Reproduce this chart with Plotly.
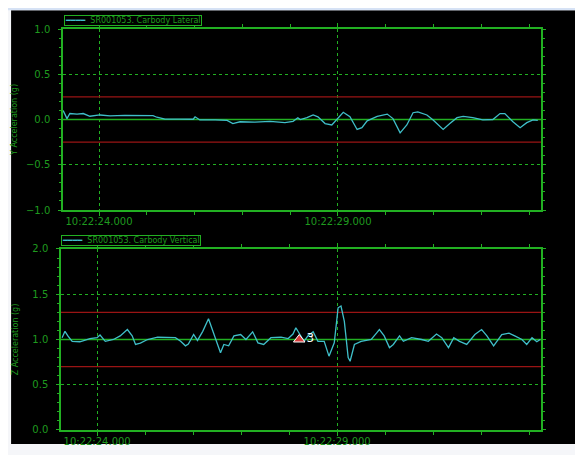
import plotly.graph_objects as go

# ---------------- data (seconds after 10:22:00) ----------------
lat_time = [23.25, 23.33, 23.39, 23.54, 23.67, 23.81, 24.02, 24.23, 24.54, 24.86,
            25.13, 25.21, 25.38, 25.69, 25.97, 26.01, 26.11, 26.43, 26.68, 26.80,
            26.95, 27.26, 27.58, 27.89, 28.06, 28.16, 28.21, 28.35, 28.48, 28.58,
            28.73, 28.87, 28.98, 29.11, 29.25, 29.40, 29.50, 29.61, 29.82, 30.03,
            30.15, 30.30, 30.44, 30.57, 30.67, 30.86, 30.99, 31.20, 31.34, 31.49,
            31.62, 31.82, 32.03, 32.24, 32.39, 32.49, 32.66, 32.81, 32.95, 33.08, 33.18]
lat_accel = [0.10, 0.01, 0.066, 0.06, 0.066, 0.036, 0.05, 0.04, 0.045, 0.04,
             0.042, 0.025, 0.005, 0.005, 0.003, 0.03, -0.005, -0.005, -0.01, -0.045,
             -0.025, -0.03, -0.02, -0.035, -0.02, 0.02, 0.0, 0.02, 0.05, 0.03,
             -0.045, -0.06, 0.01, 0.08, 0.03, -0.11, -0.09, -0.015, 0.035, 0.06,
             0.01, -0.147, -0.06, 0.075, 0.085, 0.05, -0.005, -0.11, -0.045, 0.02,
             0.035, 0.02, -0.005, 0.0, 0.065, 0.065, -0.025, -0.09, -0.035, -0.005, -0.01]

vert_time = [23.27, 23.33, 23.39, 23.48, 23.64, 23.85, 24.00, 24.06, 24.17, 24.34,
             24.48, 24.63, 24.73, 24.80, 24.90, 25.05, 25.26, 25.46, 25.63, 25.74,
             25.84, 25.90, 26.01, 26.09, 26.20, 26.32, 26.43, 26.51, 26.57, 26.64,
             26.74, 26.85, 26.99, 27.10, 27.24, 27.35, 27.47, 27.62, 27.83, 27.98,
             28.08, 28.14, 28.21, 28.31, 28.39, 28.50, 28.60, 28.73, 28.83, 28.94,
             29.02, 29.08, 29.15, 29.23, 29.27, 29.36, 29.50, 29.71, 29.82, 29.88,
             29.98, 30.09, 30.17, 30.30, 30.38, 30.55, 30.76, 30.90, 31.07, 31.18,
             31.32, 31.43, 31.55, 31.70, 31.87, 32.01, 32.12, 32.26, 32.43, 32.58,
             32.70, 32.85, 32.95, 33.06, 33.16, 33.23]
vert_accel = [1.02, 1.09, 1.04, 0.98, 0.975, 1.01, 1.02, 1.05, 0.98, 1.0,
              1.04, 1.11, 1.04, 0.945, 0.96, 1.0, 1.025, 1.02, 1.02, 0.98,
              0.93, 0.95, 1.055, 0.99, 1.09, 1.23, 1.055, 0.93, 0.853, 0.945,
              0.93, 1.04, 1.055, 1.0, 1.085, 0.963, 0.945, 1.02, 1.025, 1.01,
              1.06, 1.13, 1.07, 0.98, 1.04, 1.085, 0.98, 0.98, 0.816, 0.963,
              1.35, 1.37, 1.2, 0.8, 0.76, 0.945, 0.98, 1.0, 1.07, 1.11,
              1.04, 0.91, 0.945, 1.04, 0.98, 1.02, 1.0, 0.98, 1.06, 1.02,
              0.91, 1.02, 0.98, 0.945, 1.055, 1.11, 1.04, 0.93, 1.055, 1.07,
              1.04, 1.0, 0.945, 1.02, 0.975, 1.0]

lat_limits = [0.25, -0.25]
lat_nominal = [0.0]
vert_limits = [1.3, 0.7]
vert_nominal = [1.0]

event_time = [28.21]
event_value = [1.0]
event_label = ["3"]

x_range = [23.247, 33.247]
x_label_vals = [24, 29]
x_label_text = ["10:22:24.000", "10:22:29.000"]
lat_ticks = [-1.0, -0.5, 0.0, 0.5, 1.0]
vert_ticks = [0.0, 0.5, 1.0, 1.5, 2.0]

lat_name = "SR001053. Carbody Lateral"
vert_name = "SR001053. Carbody Vertical"

# ---------------- style ----------------
GREEN = "#22b022"
TXT = "#1f9a1f"
CYAN = "#3fbfc9"
RED = "#9a1414"
FONT = "DejaVu Sans"

fig = go.Figure()

# reference lines (drawn first so the signal sits on top)
for v in lat_limits:
    fig.add_trace(go.Scatter(x=x_range, y=[v, v], mode="lines", line=dict(color=RED, width=1.2),
                             xaxis="x", yaxis="y", showlegend=False, hoverinfo="skip"))
for v in lat_nominal:
    fig.add_trace(go.Scatter(x=x_range, y=[v, v], mode="lines", line=dict(color=GREEN, width=1.3),
                             xaxis="x", yaxis="y", showlegend=False, hoverinfo="skip"))
for v in vert_limits:
    fig.add_trace(go.Scatter(x=x_range, y=[v, v], mode="lines", line=dict(color=RED, width=1.2),
                             xaxis="x2", yaxis="y2", showlegend=False, hoverinfo="skip"))
for v in vert_nominal:
    fig.add_trace(go.Scatter(x=x_range, y=[v, v], mode="lines", line=dict(color=GREEN, width=1.3),
                             xaxis="x2", yaxis="y2", showlegend=False, hoverinfo="skip"))

fig.add_trace(go.Scatter(x=lat_time, y=lat_accel, mode="lines", name=lat_name,
                         line=dict(color=CYAN, width=1.3), xaxis="x", yaxis="y",
                         showlegend=False))
fig.add_trace(go.Scatter(x=vert_time, y=vert_accel, mode="lines", name=vert_name,
                         line=dict(color=CYAN, width=1.3), xaxis="x2", yaxis="y2",
                         showlegend=False))
fig.add_trace(go.Scatter(x=event_time, y=event_value, mode="markers+text",
                         text=event_label, textposition="middle right",
                         textfont=dict(color="white", size=12, family=FONT),
                         marker=dict(symbol="triangle-up", size=10, color="#d83a3a",
                                     line=dict(color="white", width=1)),
                         xaxis="x2", yaxis="y2", showlegend=False))

# page is offset by the browser's default 8px body margin; the figure spans 575x447
shapes = [
    dict(type="rect", xref="paper", yref="paper", x0=-0.104, x1=1.09,
         y0=-0.035, y1=1.047, fillcolor="black", line_width=0, layer="below"),
    dict(type="rect", xref="paper", yref="paper", x0=-0.12, x1=1.09,
         y0=1.047, y1=1.06, fillcolor="#d6e2f5", line_width=0, layer="below"),
]

def legend_box(name, x, y):
    return dict(xref="paper", yref="paper", x=x, y=y, xanchor="left", yanchor="bottom",
                text="<span style='color:%s'>━━━━</span>  %s" % (CYAN, name),
                showarrow=False, font=dict(color=TXT, size=8, family=FONT),
                bgcolor="black", bordercolor=GREEN, borderwidth=1, borderpad=0)

annotations = [legend_box(lat_name, 0.006, 1.007), legend_box(vert_name, 0.0, 0.458)]

xcommon = dict(range=x_range, tickmode="array", tickvals=x_label_vals, ticktext=x_label_text,
               showgrid=True, gridcolor=GREEN, griddash="dot", gridwidth=1,
               zeroline=False, showline=True, linecolor=GREEN, linewidth=1.5, mirror="ticks",
               ticks="outside", ticklen=4, tickcolor=GREEN, ticklabelstandoff=-3,
               minor=dict(tickmode="linear", tick0=23, dtick=1, ticklen=3, tickcolor=GREEN,
                          showgrid=False),
               tickfont=dict(color=TXT, size=10, family=FONT), fixedrange=True)
ycommon = dict(tickmode="array", showgrid=True, gridcolor=GREEN, griddash="dot", gridwidth=1,
               zeroline=False, showline=True, linecolor=GREEN, linewidth=1.5, mirror="ticks",
               ticks="outside", ticklen=3, tickcolor=GREEN, tickformat=".1f",
               tickfont=dict(color=TXT, size=10, family=FONT), ticklabelstandoff=6,
               minor=dict(tickmode="linear", dtick=0.1, ticklen=2, tickcolor=GREEN, showgrid=False),
               fixedrange=True)

fig.update_layout(
    width=575, height=447,
    margin=dict(l=53, r=42, t=21, b=25, autoexpand=False),
    paper_bgcolor="#f5f6f9", plot_bgcolor="black",
    shapes=shapes, annotations=annotations,
    xaxis=dict(domain=[0.0042, 1], anchor="y", **xcommon),
    xaxis2=dict(domain=[0, 1], anchor="y2", **xcommon),
    yaxis=dict(domain=[0.5486, 1], anchor="x", range=[-1.0, 1.0], tickvals=lat_ticks,
               title=dict(text="Y Acceleration (g)", font=dict(color=TXT, size=8, family=FONT),
                          standoff=7),
               **ycommon),
    yaxis2=dict(domain=[0, 0.4514], anchor="x2", range=[0.0, 2.0], tickvals=vert_ticks,
                title=dict(text="Z Acceleration (g)", font=dict(color=TXT, size=8, family=FONT),
                           standoff=13),
                **ycommon),
    showlegend=False,
)

fig.write_html("out.html")
